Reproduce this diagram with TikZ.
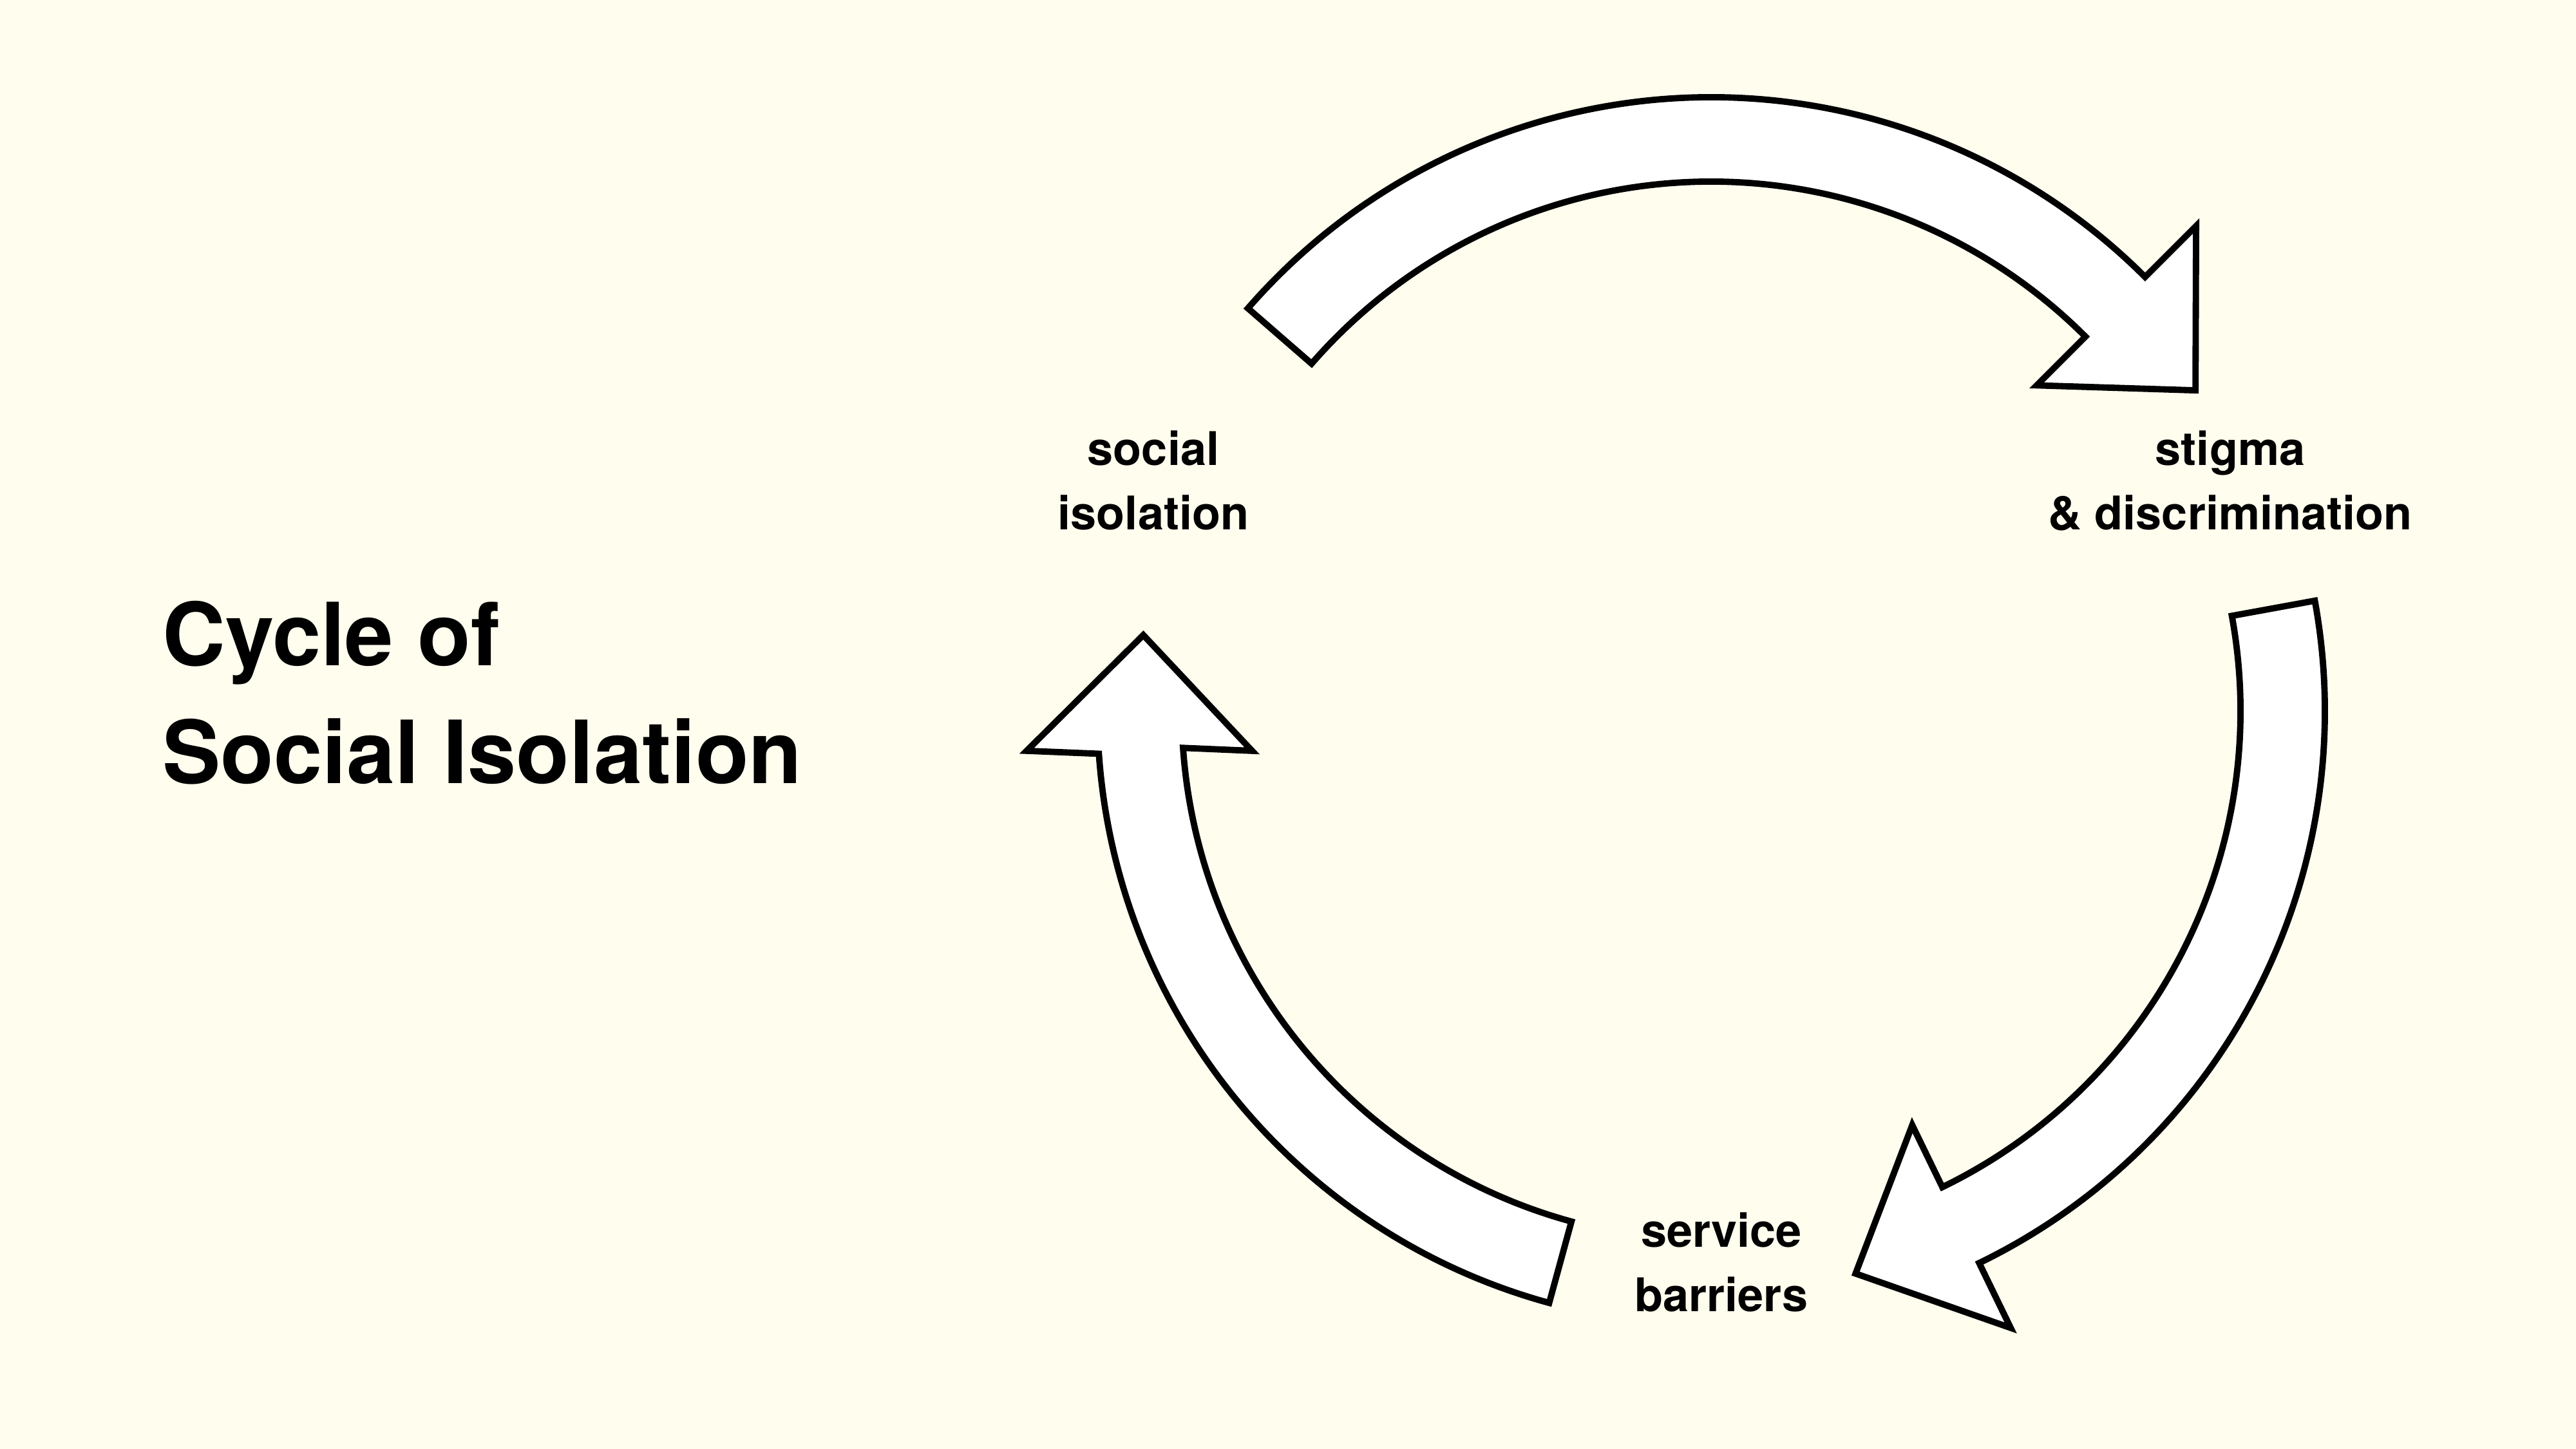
\documentclass[tikz,border=0pt]{standalone}
\usepackage{fontspec}
\setmainfont{TeX Gyre Heros}
\definecolor{cream}{HTML}{FFFDEE}

\tikzset{
  cyclelabel/.style={font=\bfseries\fontsize{20.5}{28.5}\selectfont, align=center, anchor=base, inner sep=0pt},
  bigtitle/.style={font=\bfseries\fontsize{38.5}{52.3}\selectfont, align=left, anchor=base west, inner sep=0pt},
  blockarrow/.style={draw=black, fill=white, line width=2.8pt, line join=miter}
}

\begin{document}
\begin{tikzpicture}
  % Background
  \fill[cream] (0,0) rectangle (40,22.5);
  \useasboundingbox (0,0) rectangle (40,22.5);

  % Title (anchored on its last line)
  \node[bigtitle] (title) at (2.52,10.33) {Cycle of\\Social Isolation};

  % Hub of the cycle
  \coordinate (hub) at (26.57,11.46);

  % Labels round the cycle
  \node[cyclelabel] (isolation) at (17.91,14.27) {social\\isolation};
  \node[cyclelabel] (stigma) at (34.63,14.27) {stigma\\\& discrimination};
  \node[cyclelabel] (barriers) at (26.73,2.13) {service\\barriers};

  % Curved block arrows (tail angle / head angle / head tilt), clockwise
  \foreach \tail/\head/\turn in {139/45/0, 10.35/-64.1/0, 254.7/184/-4}
    \draw[blockarrow, shift={(hub)}]
      (\tail:9.53) arc[start angle=\tail, end angle=\head, radius=9.53]
      -- ([rotate around={\turn:(\head:8.875)}] \head:10.65)
      -- ([rotate around={\turn:(\head:8.875)}] {\head-11.5}:9.02)
      -- ([rotate around={\turn:(\head:8.875)}] \head:7.15)
      -- (\head:8.22)
      arc[start angle=\head, end angle=\tail, radius=8.22] -- cycle;
\end{tikzpicture}
\end{document}
